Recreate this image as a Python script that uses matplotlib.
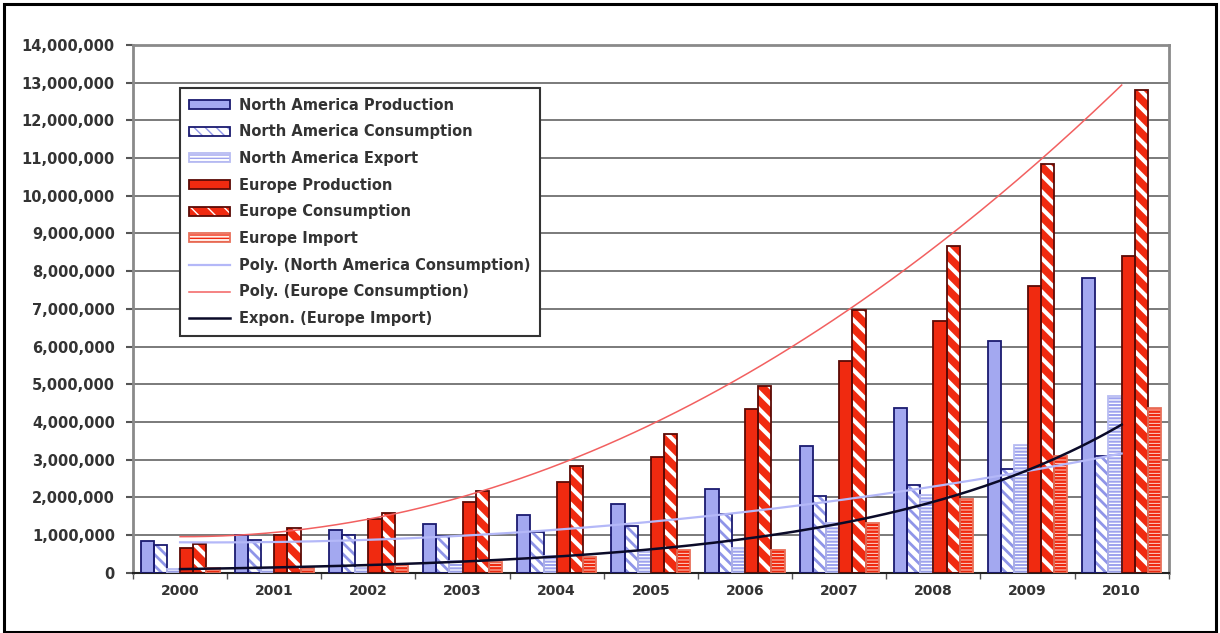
import numpy as np
import matplotlib
matplotlib.use('Agg')
import matplotlib.pyplot as plt
from matplotlib.patches import Rectangle
from matplotlib.ticker import FuncFormatter, FixedLocator
from matplotlib.legend_handler import HandlerTuple

plt.rcParams['font.family'] = ['DejaVu Sans']

# yearly figures, units
years = ['2000', '2001', '2002', '2003', '2004', '2005', '2006', '2007', '2008', '2009', '2010']
na_production = [850000, 1000000, 1140000, 1300000, 1540000, 1820000, 2220000, 3370000, 4370000, 6140000, 7830000]
na_consumption = [740000, 870000, 1000000, 980000, 1090000, 1230000, 1560000, 2040000, 2330000, 2750000, 3100000]
na_export = [110000, 130000, 140000, 320000, 450000, 590000, 660000, 1330000, 2070000, 3400000, 4690000]
eu_production = [660000, 1000000, 1430000, 1880000, 2420000, 3080000, 4340000, 5630000, 6690000, 7600000, 8410000]
eu_consumption = [770000, 1190000, 1600000, 2170000, 2840000, 3690000, 4960000, 6980000, 8670000, 10850000, 12800000]
eu_import = [130000, 130000, 200000, 300000, 430000, 600000, 610000, 1330000, 1970000, 3100000, 4380000]

NA_BLUE = '#a3a8f0'
NA_EDGE = '#1a1a70'
EU_RED = '#f02a10'
EU_EDGE = '#5a0a05'

fig = plt.figure(figsize=(12.2, 6.33), dpi=100)
ax = fig.add_axes([0.109, 0.095, 0.849, 0.834])

x = np.arange(len(years))
w = 0.14
offsets = (np.arange(6) - 2.5) * w


def draw_bars(pos, vals, face, edge, hatch=None, hatch_color=None, hatch_lw=1.0):
    # fill + hatch first, then an outline on top so hatch and edge can differ
    with plt.rc_context({'hatch.linewidth': hatch_lw}):
        fill = ax.bar(pos, vals, w, color=face, hatch=hatch,
                      edgecolor=hatch_color if hatch else face, linewidth=0, zorder=2)
    outline = ax.bar(pos, vals, w, fill=False, edgecolor=edge, linewidth=1.3, zorder=3)
    return (fill, outline)


h1 = draw_bars(x + offsets[0], na_production, NA_BLUE, NA_EDGE)
h2 = draw_bars(x + offsets[1], na_consumption, 'white', NA_EDGE, '\\\\\\', '#8f95e8', 2.0)
h3 = draw_bars(x + offsets[2], na_export, 'white', '#b8bcf2', '-----', '#9ea3ee', 1.5)
h4 = draw_bars(x + offsets[3], eu_production, EU_RED, EU_EDGE)
h5 = draw_bars(x + offsets[4], eu_consumption, EU_RED, EU_EDGE, '\\\\', 'white', 3.0)
h6 = draw_bars(x + offsets[5], eu_import, '#fff0ea', '#e8705a', '-----', EU_RED, 1.8)

# Excel-style trendlines fitted to the series
xs = np.linspace(0, len(years) - 1, 200)
na_fit = np.polyfit(x, na_consumption, 2)
eu_fit = np.polyfit(x, eu_consumption, 2)
imp_fit = np.polyfit(x, np.log(eu_import), 1)
l1, = ax.plot(xs, np.polyval(na_fit, xs), color='#b4b8f8', lw=1.6, zorder=4)
l2, = ax.plot(xs, np.polyval(eu_fit, xs), color='#f26060', lw=1.1, zorder=4)
l3, = ax.plot(xs, np.exp(np.polyval(imp_fit, xs)), color='#0a0a28', lw=1.8, zorder=4)

ax.set_xlim(-0.5, len(years) - 0.5)
ax.set_ylim(0, 14000000)
ax.set_yticks(np.arange(0, 14000001, 1000000))
ax.yaxis.set_major_formatter(FuncFormatter(lambda v, p: f'{v:,.0f}'))
ax.set_xticks(x)
ax.set_xticklabels(years)
ax.xaxis.set_minor_locator(FixedLocator(np.arange(-0.5, len(years), 1.0)))
ax.tick_params(axis='x', which='major', length=0, pad=8, labelsize=10, labelcolor='#333333')
ax.tick_params(axis='x', which='minor', length=4, color='#555555', width=1)
ax.tick_params(axis='y', length=5, width=1.5, color='#555555', pad=8, labelsize=10.5, labelcolor='#333333')
for lab in ax.get_xticklabels() + ax.get_yticklabels():
    lab.set_fontweight('bold')

ax.grid(axis='y', color='#7a7a7a', lw=1.4)
ax.set_axisbelow(True)
for side in ['left', 'right', 'top']:
    ax.spines[side].set_color('#8a8a8a')
    ax.spines[side].set_linewidth(2)
ax.spines['bottom'].set_color('#222222')
ax.spines['bottom'].set_linewidth(1.5)

labels = ['North America Production', 'North America Consumption', 'North America Export',
          'Europe Production', 'Europe Consumption', 'Europe Import',
          'Poly. (North America Consumption)', 'Poly. (Europe Consumption)', 'Expon. (Europe Import)']
leg = ax.legend([h1, h2, h3, h4, h5, h6, l1, l2, l3], labels,
                handler_map={tuple: HandlerTuple(ndivide=1)},
                loc='upper left', bbox_to_anchor=(0.045, 0.918),
                prop={'weight': 'bold', 'size': 10.5}, fancybox=False,
                edgecolor='#333333', framealpha=1, labelspacing=0.8,
                handlelength=2.8, handleheight=0.55, handletextpad=0.6,
                borderpad=0.65, borderaxespad=0)
leg.get_frame().set_linewidth(1.5)
for t in leg.get_texts():
    t.set_color('#333333')

# thin black frame round the whole picture
fig.patches.append(Rectangle((0.003, 0.002), 0.994, 0.992, transform=fig.transFigure,
                             fill=False, edgecolor='black', linewidth=2.2))

fig.savefig('out.png', dpi=100)
